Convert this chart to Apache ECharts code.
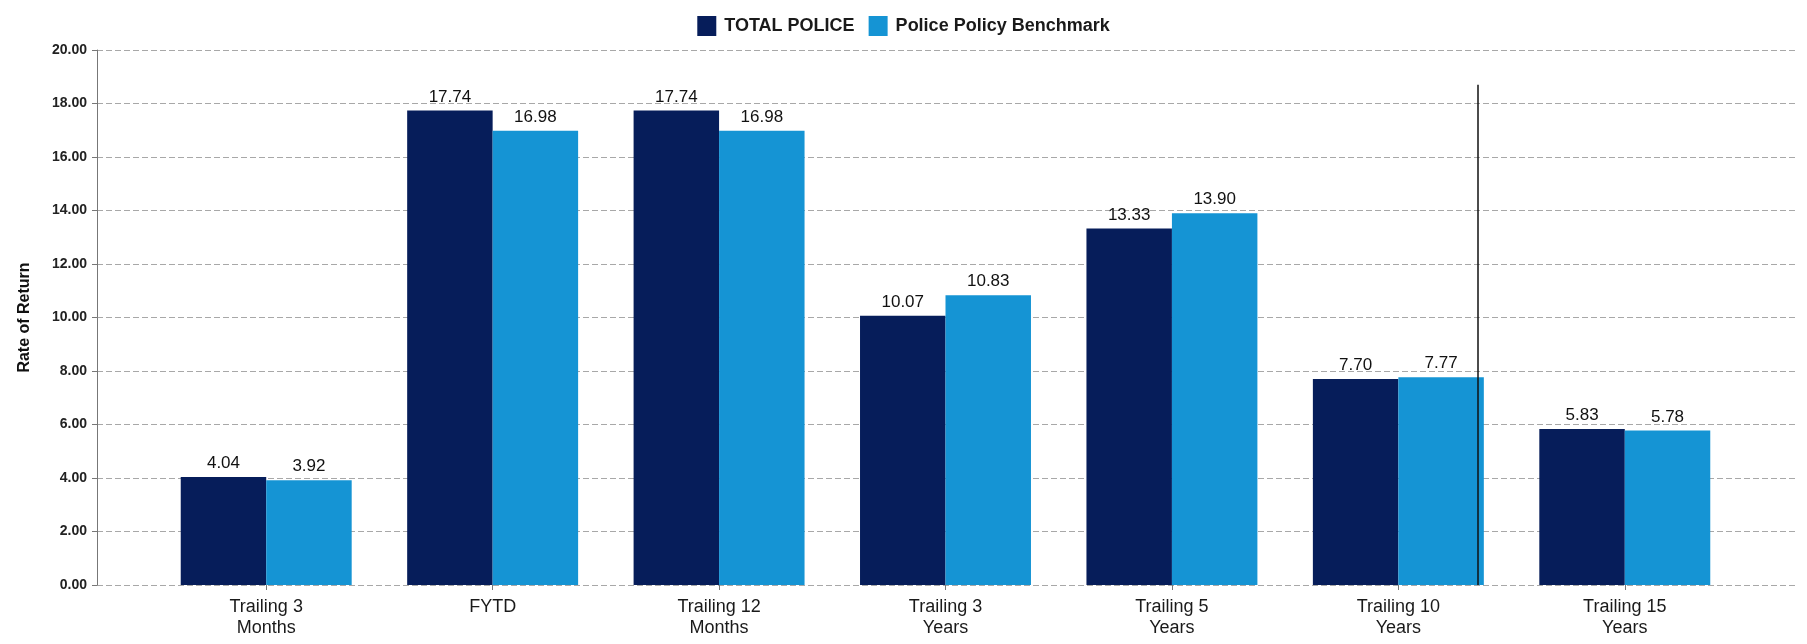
<!DOCTYPE html>
<html>
<head>
<meta charset="utf-8">
<script src="https://cdn.jsdelivr.net/npm/echarts@6/dist/echarts.min.js"></script>
<style>
html,body{margin:0;padding:0;background:#fff;}
#chart{width:1807px;height:644px;}
</style>
</head>
<body>
<div id="chart"></div>
<script>
const categories = ["Trailing 3\nMonths", "FYTD", "Trailing 12\nMonths", "Trailing 3\nYears", "Trailing 5\nYears", "Trailing 10\nYears", "Trailing 15\nYears"];
const totalPolice = [4.04, 17.74, 17.74, 10.07, 13.33, 7.70, 5.83];
const benchmark = [3.92, 16.98, 16.98, 10.83, 13.90, 7.77, 5.78];
const seriesNames = ["TOTAL POLICE", "Police Policy Benchmark"];
const yMin = 0, yMax = 20, yInterval = 2;
const dividerAt = 5.34;   // position of vertical divider, in category units
const dividerTop = 18.7;  // top of vertical divider, in axis units

const FONT = 'Liberation Sans, Arial, sans-serif';
const chart = echarts.init(document.getElementById('chart'), null, {renderer: 'canvas'});

const option = {
  backgroundColor: '#ffffff',
  animation: false,
  legend: {
    data: seriesNames,
    top: 11,
    left: 'center',
    itemWidth: 19,
    itemHeight: 20,
    itemGap: 14,
    icon: 'rect',
    textStyle: {fontFamily: FONT, fontSize: 18, fontWeight: 'bold', color: '#1a1a1a', padding: [0, 0, 0, 3]}
  },
  grid: [
    {left: 97, right: 9, top: 50, bottom: 59},
    {left: 153, right: 69, top: 50, bottom: 59}
  ],
  xAxis: [
    {gridIndex: 0, type: 'value', min: -0.75, max: 6.75, show: false},
    {
      gridIndex: 1, type: 'category', data: categories, boundaryGap: true,
      axisLine: {show: false},
      axisTick: {show: true, alignWithLabel: true, length: 5, lineStyle: {color: '#777'}},
      axisLabel: {fontFamily: FONT, fontSize: 18, color: '#1a1a1a', lineHeight: 21, margin: 12, interval: 0}
    }
  ],
  yAxis: [
    {
      gridIndex: 0, type: 'value', min: yMin, max: yMax, interval: yInterval, position: 'left',
      name: 'Rate of Return', nameLocation: 'middle', nameGap: 64, nameRotate: 90,
      nameTextStyle: {fontFamily: FONT, fontSize: 16, fontWeight: 'bold', color: '#111'},
      axisLine: {show: true, onZero: false, lineStyle: {color: '#777', width: 1}},
      axisTick: {show: true, length: 5, lineStyle: {color: '#777'}},
      axisLabel: {fontFamily: FONT, fontSize: 14, fontWeight: 'bold', color: '#222', margin: 10,
        formatter: v => v.toFixed(2)},
      splitLine: {show: true, lineStyle: {color: '#a8a8a8', type: [6, 3], width: 1}}
    },
    {gridIndex: 1, type: 'value', min: yMin, max: yMax, interval: yInterval, show: false, splitLine: {show: false}}
  ],
  series: [
    {
      name: seriesNames[0], type: 'bar', xAxisIndex: 1, yAxisIndex: 1,
      data: totalPolice, barGap: '0%', barCategoryGap: '24.5%',
      itemStyle: {color: '#061d5a'},
      label: {show: true, position: 'top', distance: 5, fontFamily: FONT, fontSize: 17, color: '#111',
        formatter: p => p.value.toFixed(2)}
    },
    {
      name: seriesNames[1], type: 'bar', xAxisIndex: 1, yAxisIndex: 1,
      data: benchmark, barGap: '0%', barCategoryGap: '24.5%',
      itemStyle: {color: '#1594d4'},
      label: {show: true, position: 'top', distance: 5, fontFamily: FONT, fontSize: 17, color: '#111',
        formatter: p => p.value.toFixed(2)}
    },
    {
      type: 'line', xAxisIndex: 0, yAxisIndex: 0, data: [], z: 10, silent: true,
      markLine: {
        silent: true, symbol: ['none', 'none'], animation: false,
        label: {show: false},
        lineStyle: {color: '#111', width: 1.5, type: 'solid'},
        data: [[{coord: [dividerAt, yMin]}, {coord: [dividerAt, dividerTop]}]]
      }
    }
  ]
};
chart.setOption(option);
</script>
</body>
</html>
